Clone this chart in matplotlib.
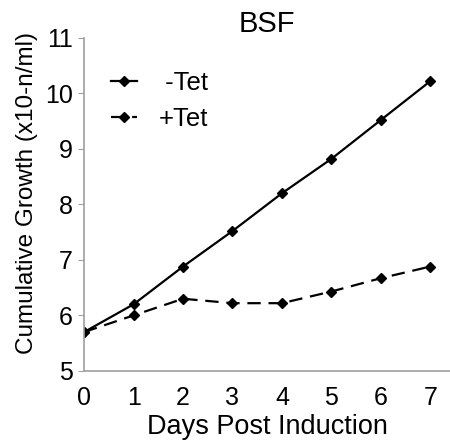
import numpy as np
import matplotlib.pyplot as plt

plt.rcParams['font.family'] = ['Liberation Sans', 'DejaVu Sans']

days = [0, 1, 2, 3, 4, 5, 6, 7]
minus_tet = [5.7, 6.2, 6.88, 7.52, 8.2, 8.82, 9.52, 10.22]
plus_tet = [5.7, 6.0, 6.3, 6.22, 6.22, 6.43, 6.67, 6.88]

fig = plt.figure(figsize=(4.5, 4.41), dpi=100)
ax = fig.add_axes([0.187, 0.159, 0.813, 0.755])

ax.plot(days, minus_tet, color='black', lw=1.6, marker='D', ms=5, label=' -Tet')
ax.plot(days, plus_tet, color='black', lw=1.6, marker='D', ms=5,
        dashes=(6, 3.5), label='+Tet')

ax.set_xlim(0, 7.4)
ax.set_ylim(5, 11)
ax.set_xticks(days)
ax.set_yticks([5, 6, 7, 8, 9, 10, 11])
ax.tick_params(axis='both', labelsize=18, color='#a0a0a0')
ax.tick_params(axis='x', length=0, pad=11)
ax.tick_params(axis='y', length=4, pad=4)

for s in ['top', 'right']:
    ax.spines[s].set_visible(False)
for s in ['left', 'bottom']:
    ax.spines[s].set_color('#a0a0a0')
    ax.spines[s].set_linewidth(1.2)

ax.set_title('BSF', fontsize=21, pad=4)
ax.set_xlabel('Days Post Induction', fontsize=19.5, labelpad=3)
ax.set_ylabel('Cumulative Growth (x10-n/ml)', fontsize=17.5, labelpad=5)
ax.yaxis.label.set_y(0.534)

ax.legend(loc='upper left', bbox_to_anchor=(0.01, 0.97), frameon=False,
          fontsize=18.5, handlelength=1.0, handletextpad=0.85,
          labelspacing=0.45)

fig.savefig('out.png')
